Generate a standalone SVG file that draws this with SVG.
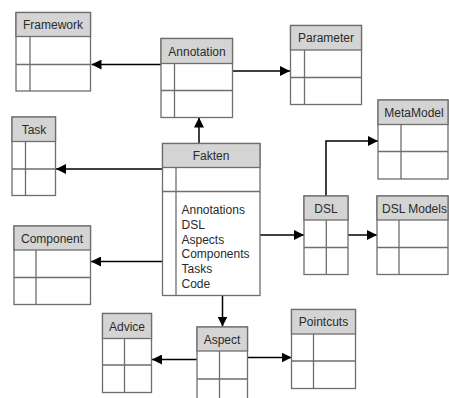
<svg xmlns="http://www.w3.org/2000/svg" width="449" height="398" viewBox="0 0 449 398">
<style>
.b{fill:#fff;stroke:#6e6e6e;stroke-width:1.3}
.h{fill:#d4d4d4;stroke:#6e6e6e;stroke-width:1.3}
.l{stroke:#6e6e6e;stroke-width:1.3;fill:none}
.t{font-family:"Liberation Sans",Arial,sans-serif;font-size:12px;fill:#2a2a2a}
.c{text-anchor:middle}
.e{stroke:#000;stroke-width:1.5;fill:none;marker-end:url(#a)}
</style>
<defs>
<marker id="a" viewBox="0 0 10 10" refX="10" refY="5" markerWidth="10" markerHeight="10" markerUnits="userSpaceOnUse" orient="auto">
<path d="M0,0 L10,5 L0,10 z" fill="#000"/>
</marker>
</defs>
<rect width="449" height="398" fill="#fff"/>
<g id="connectors">
<path class="e" d="M161,64.5 H91.5"/>
<path class="e" d="M232,71 H290"/>
<path class="e" d="M199,143.5 V117.5"/>
<path class="e" d="M162.5,169 H56"/>
<path class="e" d="M162.5,261.5 H91"/>
<path class="e" d="M260,235 H304"/>
<path class="e" d="M326,196 V141 H378"/>
<path class="e" d="M348,235 H377"/>
<path class="e" d="M222.5,296 V326.5"/>
<path class="e" d="M197,359.5 H152"/>
<path class="e" d="M247.5,357.5 H291.5"/>
</g>
<g id="Framework">
<rect class="b" x="16" y="12.5" width="74.5" height="78.5"/>
<rect class="h" x="16" y="12.5" width="74.5" height="24"/>
<path class="l" d="M30,36.5 V91 M16,64.5 H90.5"/>
<text class="t c" x="53" y="29">Framework</text>
</g>
<g id="Annotation">
<rect class="b" x="161" y="38.5" width="71.5" height="79"/>
<rect class="h" x="161" y="38.5" width="71.5" height="25"/>
<path class="l" d="M174.5,63.5 V117.5 M161,90.5 H232.5"/>
<text class="t c" x="197" y="55.5">Annotation</text>
</g>
<g id="Parameter">
<rect class="b" x="290.5" y="25.5" width="71" height="79"/>
<rect class="h" x="290.5" y="25.5" width="71" height="24.5"/>
<path class="l" d="M304.5,50 V104.5 M290.5,77.5 H361.5"/>
<text class="t c" x="326" y="42">Parameter</text>
</g>
<g id="Task">
<rect class="b" x="12" y="117" width="43.5" height="78.5"/>
<rect class="h" x="12" y="117" width="43.5" height="24.5"/>
<path class="l" d="M25.5,141.5 V195.5 M12,169 H55.5"/>
<text class="t c" x="34" y="133.5">Task</text>
</g>
<g id="Fakten">
<rect class="b" x="162.5" y="143.5" width="97.5" height="152"/>
<rect class="h" x="162.5" y="143.5" width="97.5" height="24"/>
<path class="l" d="M176,167.5 V295.5 M162.5,191.5 H260"/>
<text class="t c" x="211" y="160">Fakten</text>
<text class="t" x="181.5" y="214">Annotations</text>
<text class="t" x="181.5" y="228.8">DSL</text>
<text class="t" x="181.5" y="243.6">Aspects</text>
<text class="t" x="181.5" y="258.4">Components</text>
<text class="t" x="181.5" y="273.2">Tasks</text>
<text class="t" x="181.5" y="288">Code</text>
</g>
<g id="MetaModel">
<rect class="b" x="378" y="100" width="70" height="79"/>
<rect class="h" x="378" y="100" width="70" height="24.5"/>
<path class="l" d="M401,124.5 V179 M378,151.5 H448"/>
<text class="t c" x="414" y="116.5">MetaModel</text>
</g>
<g id="DSL">
<rect class="b" x="304" y="196" width="44" height="78.5"/>
<rect class="h" x="304" y="196" width="44" height="24"/>
<path class="l" d="M326.3,220 V274.5 M304,247.5 H348"/>
<text class="t c" x="326" y="212.5">DSL</text>
</g>
<g id="DSLModels">
<rect class="b" x="377" y="196" width="71" height="78.5"/>
<rect class="h" x="377" y="196" width="71" height="24"/>
<path class="l" d="M399,220 V274.5 M377,247.5 H448"/>
<text class="t" x="382" y="212.5">DSL Models</text>
</g>
<g id="Component">
<rect class="b" x="14" y="226" width="76.5" height="78.5"/>
<rect class="h" x="14" y="226" width="76.5" height="24"/>
<path class="l" d="M36,250 V304.5 M14,277.5 H90.5"/>
<text class="t c" x="52" y="242.5">Component</text>
</g>
<g id="Advice">
<rect class="b" x="102.5" y="313.5" width="49" height="79"/>
<rect class="h" x="102.5" y="313.5" width="49" height="25"/>
<path class="l" d="M124.5,338.5 V392.5 M102.5,365 H151.5"/>
<text class="t c" x="127" y="330.5">Advice</text>
</g>
<g id="Aspect">
<rect class="b" x="197" y="327" width="50.5" height="80"/>
<rect class="h" x="197" y="327" width="50.5" height="24"/>
<path class="l" d="M219.5,351 V407 M197,379 H247.5"/>
<text class="t c" x="222" y="343.5">Aspect</text>
</g>
<g id="Pointcuts">
<rect class="b" x="291.5" y="309.5" width="64" height="79"/>
<rect class="h" x="291.5" y="309.5" width="64" height="24.5"/>
<path class="l" d="M313.5,334 V388.5 M291.5,361 H355.5"/>
<text class="t c" x="323.5" y="326">Pointcuts</text>
</g>
</svg>
